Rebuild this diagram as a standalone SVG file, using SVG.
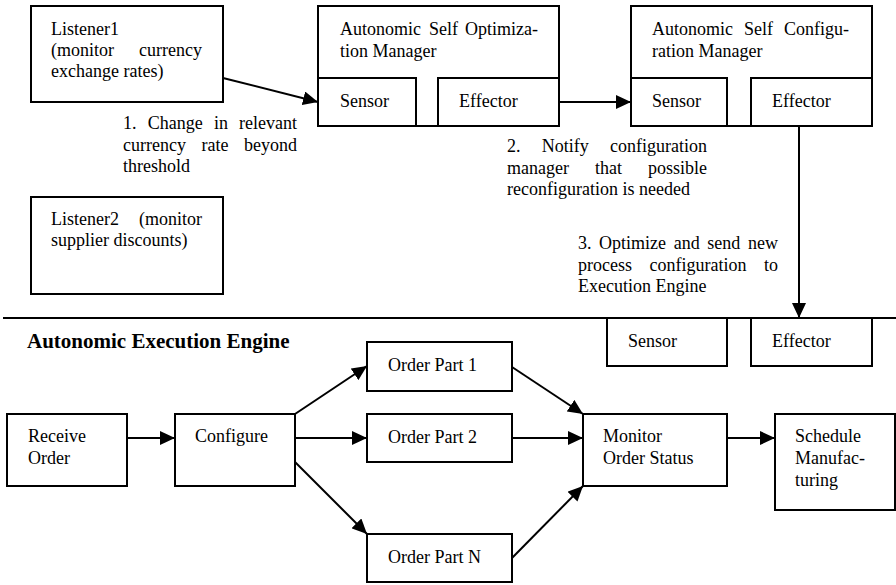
<svg xmlns="http://www.w3.org/2000/svg" width="896" height="585" viewBox="0 0 896 585">
  <style>
    .box { fill: #fff; stroke: #000; stroke-width: 2; }
    .t { font-family: "Liberation Serif", "Times New Roman", serif; font-size: 18px; fill: #000; }
    .title { font-family: "Liberation Serif", "Times New Roman", serif; font-size: 21px; font-weight: bold; fill: #000; }
    .edge { fill: none; stroke: #000; stroke-width: 2; marker-end: url(#head); }
    .rule { fill: none; stroke: #000; stroke-width: 2; }
  </style>
  <defs>
    <marker id="head" markerUnits="userSpaceOnUse" markerWidth="16" markerHeight="14" refX="15" refY="7" orient="auto">
      <path d="M0,0 L15,7 L0,14 z" fill="#000"/>
    </marker>
  </defs>
  <rect width="896" height="585" fill="#fff"/>

  <!-- upper management layer -->
  <g id="listener1">
    <rect class="box" x="31" y="6" width="192" height="96"/>
    <text class="t" x="51" y="35">Listener1</text>
    <text class="t" y="56"><tspan x="51">(monitor</tspan><tspan x="139">currency</tspan></text>
    <text class="t" x="51" y="77">exchange rates)</text>
  </g>

  <g id="listener2">
    <rect class="box" x="31" y="197" width="192" height="97"/>
    <text class="t" y="225"><tspan x="51">Listener2</tspan><tspan x="139">(monitor</tspan></text>
    <text class="t" x="51" y="246">supplier discounts)</text>
  </g>

  <g id="optimization-manager">
    <rect class="box" x="318" y="6" width="241" height="120"/>
    <text class="t" y="35"><tspan x="340">Autonomic</tspan><tspan x="429">Self</tspan><tspan x="465">Optimiza-</tspan></text>
    <text class="t" x="340" y="57">tion Manager</text>
    <rect class="box" x="318" y="78" width="98" height="48"/>
    <text class="t" x="340" y="107">Sensor</text>
    <rect class="box" x="438" y="78" width="121" height="48"/>
    <text class="t" x="459" y="107">Effector</text>
  </g>

  <g id="configuration-manager">
    <rect class="box" x="631" y="6" width="241" height="120"/>
    <text class="t" y="35"><tspan x="652">Autonomic</tspan><tspan x="744">Self</tspan><tspan x="784">Configu-</tspan></text>
    <text class="t" x="652" y="57">ration Manager</text>
    <rect class="box" x="631" y="78" width="96" height="48"/>
    <text class="t" x="652" y="107">Sensor</text>
    <rect class="box" x="751" y="78" width="121" height="48"/>
    <text class="t" x="772" y="107">Effector</text>
  </g>

  <!-- step labels -->
  <g id="label-1">
    <text class="t" y="129"><tspan x="123">1.</tspan><tspan x="147.7">Change</tspan><tspan x="213.9">in</tspan><tspan x="239.1">relevant</tspan></text>
    <text class="t" y="150.5"><tspan x="123">currency</tspan><tspan x="201.5">rate</tspan><tspan x="244">beyond</tspan></text>
    <text class="t" x="123" y="172">threshold</text>
  </g>
  <g id="label-2">
    <text class="t" y="152"><tspan x="507">2.</tspan><tspan x="541.8">Notify</tspan><tspan x="610">configuration</tspan></text>
    <text class="t" y="173.5"><tspan x="507">manager</tspan><tspan x="595">that</tspan><tspan x="648">possible</tspan></text>
    <text class="t" x="507" y="195">reconfiguration is needed</text>
  </g>
  <g id="label-3">
    <text class="t" y="249"><tspan x="578">3.</tspan><tspan x="599.1">Optimize</tspan><tspan x="673.7">and</tspan><tspan x="707.3">send</tspan><tspan x="747.9">new</tspan></text>
    <text class="t" y="270.5"><tspan x="578">process</tspan><tspan x="649.5">configuration</tspan><tspan x="764">to</tspan></text>
    <text class="t" x="578" y="292">Execution Engine</text>
  </g>

  <!-- layer boundary -->
  <line class="rule" x1="3" y1="318" x2="896" y2="318"/>

  <!-- execution engine layer -->
  <text class="title" x="27" y="348">Autonomic Execution Engine</text>

  <g id="engine-sensor">
    <rect class="box" x="607" y="318" width="120" height="48"/>
    <text class="t" x="628" y="347">Sensor</text>
  </g>
  <g id="engine-effector">
    <rect class="box" x="751" y="318" width="121" height="48"/>
    <text class="t" x="772" y="347">Effector</text>
  </g>

  <g id="receive-order">
    <rect class="box" x="7" y="414" width="120" height="72"/>
    <text class="t" x="28" y="442">Receive</text>
    <text class="t" x="28" y="464">Order</text>
  </g>
  <g id="configure">
    <rect class="box" x="175" y="414" width="120" height="72"/>
    <text class="t" x="195" y="442">Configure</text>
  </g>
  <g id="order-part-1">
    <rect class="box" x="367" y="342" width="145" height="49"/>
    <text class="t" x="388" y="371">Order Part 1</text>
  </g>
  <g id="order-part-2">
    <rect class="box" x="367" y="414" width="145" height="48"/>
    <text class="t" x="388" y="443">Order Part 2</text>
  </g>
  <g id="order-part-n">
    <rect class="box" x="367" y="534" width="145" height="48"/>
    <text class="t" x="388" y="563">Order Part N</text>
  </g>
  <g id="monitor-order-status">
    <rect class="box" x="583" y="414" width="144" height="72"/>
    <text class="t" x="603" y="442">Monitor</text>
    <text class="t" x="603" y="464">Order Status</text>
  </g>
  <g id="schedule-manufacturing">
    <rect class="box" x="775" y="414" width="120" height="96"/>
    <text class="t" x="795" y="442">Schedule</text>
    <text class="t" x="795" y="464">Manufac-</text>
    <text class="t" x="795" y="486">turing</text>
  </g>

  <!-- connectors -->
  <g id="connectors">
    <line class="edge" x1="223" y1="78" x2="318" y2="102"/>
    <line class="edge" x1="559" y1="102" x2="631" y2="102"/>
    <line class="edge" x1="799" y1="126" x2="799" y2="318"/>
    <line class="edge" x1="127" y1="438" x2="175" y2="438"/>
    <line class="edge" x1="295" y1="414" x2="367" y2="366"/>
    <line class="edge" x1="295" y1="438" x2="367" y2="438"/>
    <line class="edge" x1="295" y1="462" x2="367" y2="534"/>
    <line class="edge" x1="512" y1="367" x2="583" y2="414"/>
    <line class="edge" x1="512" y1="438" x2="583" y2="438"/>
    <line class="edge" x1="512" y1="558" x2="583" y2="486"/>
    <line class="edge" x1="727" y1="438" x2="775" y2="438"/>
  </g>
</svg>
